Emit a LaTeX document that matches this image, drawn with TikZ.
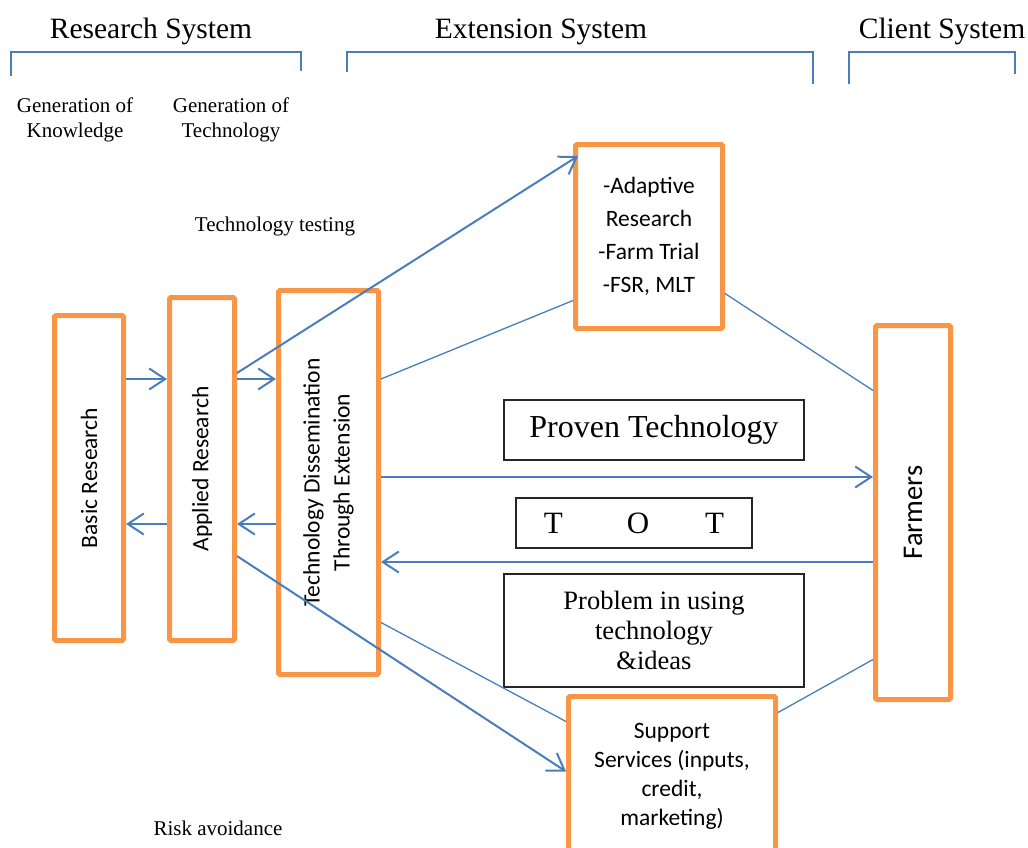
\documentclass[tikz,border=0pt]{standalone}
\usepackage{fontspec}
\setmainfont{Liberation Serif}
\newfontfamily\calibri{Carlito}
\usepackage{graphicx}
\usetikzlibrary{arrows.meta, positioning, calc}
\definecolor{boxorange}{HTML}{F79646}
\definecolor{lineblue}{HTML}{4A7EBB}

\begin{document}
\begin{tikzpicture}[x=1pt, y=-1pt,
  orangebox/.style={draw=boxorange, line width=5pt, rounded corners=1.5pt, fill=white, inner sep=0pt, font=\calibri\fontsize{23.5}{29}\selectfont},
  plainbox/.style={draw=black!85, line width=1.2pt, fill=white, inner sep=0pt},
  flow/.style={draw=lineblue, line width=2pt, -{Straight Barb[length=16pt,width=21pt]}},
  link/.style={draw=lineblue, line width=1.3pt},
  bracket/.style={draw=lineblue, line width=2pt},
  small/.style={font=\fontsize{21}{25}\selectfont, align=center}]

\useasboundingbox (0,0) rectangle (1028,847);
\clip (0,0) rectangle (1028,847);

\foreach \name/\x in {Research System/151, Extension System/541, Client System/942}
  \node (head\x) [anchor=base, font=\fontsize{29.5}{34}\selectfont] at (\x,38) {\name};
\foreach \a/\b/\c/\d in {11/301/76/71, 347/813/72/84, 849/1015/84/74}
  \draw [bracket] (\a,\c) -- (\a,52) -- (\b,52) -- (\b,\d);

\node (genknow) [small] at (75,120) {Generation of\\Knowledge};
\node (gentech) [small] at (231,120) {Generation of\\Technology};
\node (testing) [small, anchor=base] at (275,231) {Technology testing};
\node (risk) [small, anchor=base] at (218,835) {Risk avoidance};

\node (basic) [orangebox, minimum width=69pt, minimum height=325pt] at (89,478) {\rotatebox{90}{Basic Research}};
\node (applied) [orangebox, minimum width=65pt, minimum height=343pt] at (202,469) {\rotatebox{90}{Applied Research}};
\node (tech) [orangebox, minimum width=100pt, minimum height=384pt, font=\calibri\fontsize{23.5}{30}\selectfont] at (328.5,482.5)
  {\rotatebox{90}{\begin{tabular}{@{}c@{}}Technology Dissemination\\Through Extension\end{tabular}}};
\node (adapt) [orangebox, minimum width=147pt, minimum height=184pt, align=center, font=\calibri\fontsize{23.5}{33}\selectfont] at (649,236.5)
  {-Adaptive\\Research\\-Farm Trial\\-FSR, MLT};
\node (farm) [orangebox, minimum width=75pt, minimum height=374pt, font=\calibri\fontsize{28.5}{34}\selectfont] at (913,512.5) {\rotatebox{90}{Farmers}};
\node (support) [orangebox, minimum width=207pt, minimum height=160pt, align=center] at (672,776.5)
  {Support\\Services (inputs,\\credit,\\marketing)};

\node (proven) [plainbox, minimum width=300pt, minimum height=60pt, font=\fontsize{32}{37}\selectfont] at (654,430) {Proven Technology\hspace{8pt}};
\node (tot) [plainbox, minimum width=236pt, minimum height=50pt, font=\fontsize{31}{36}\selectfont] at (634,523) {T\hspace{64pt}O\hspace{56pt}T\hspace{14pt}};
\node (problem) [plainbox, minimum width=300pt, minimum height=113pt, align=center, font=\fontsize{26.5}{30}\selectfont] at (654,630.5)
  {Problem in using\\technology\\\&ideas};

\coordinate (upper) at (0,379);
\coordinate (lower) at (0,524);
\coordinate (forth) at (0,477);
\coordinate (back) at (0,562);

\draw [flow] (basic.east |- upper) -- (applied.west |- upper);
\draw [flow] (applied.east |- upper) -- (tech.west |- upper);
\draw [flow] (tech.west |- lower) -- (applied.east |- lower);
\draw [flow] (applied.west |- lower) -- (basic.east |- lower);
\draw [flow] (tech.east |- forth) -- (farm.west |- forth);
\draw [flow] (farm.west |- back) -- (tech.east |- back);
\draw [flow] ($(applied.east)+(0,-96)$) -- ($(adapt.north west)+(5,14)$);
\draw [flow] ($(applied.east)+(0,87)$) -- ($(support.west)+(0,-5)$);

\draw [link] (tech.east |- upper) -- ($(adapt.west)+(0,64)$);
\draw [link] ($(adapt.east)+(0,57)$) -- ($(farm.west)+(0,-122)$);
\draw [link] ($(tech.east)+(0,140)$) -- ($(support.west)+(0,-55)$);
\draw [link] ($(support.east)+(0,-64)$) -- ($(farm.west)+(0,147)$);
\end{tikzpicture}
\end{document}
